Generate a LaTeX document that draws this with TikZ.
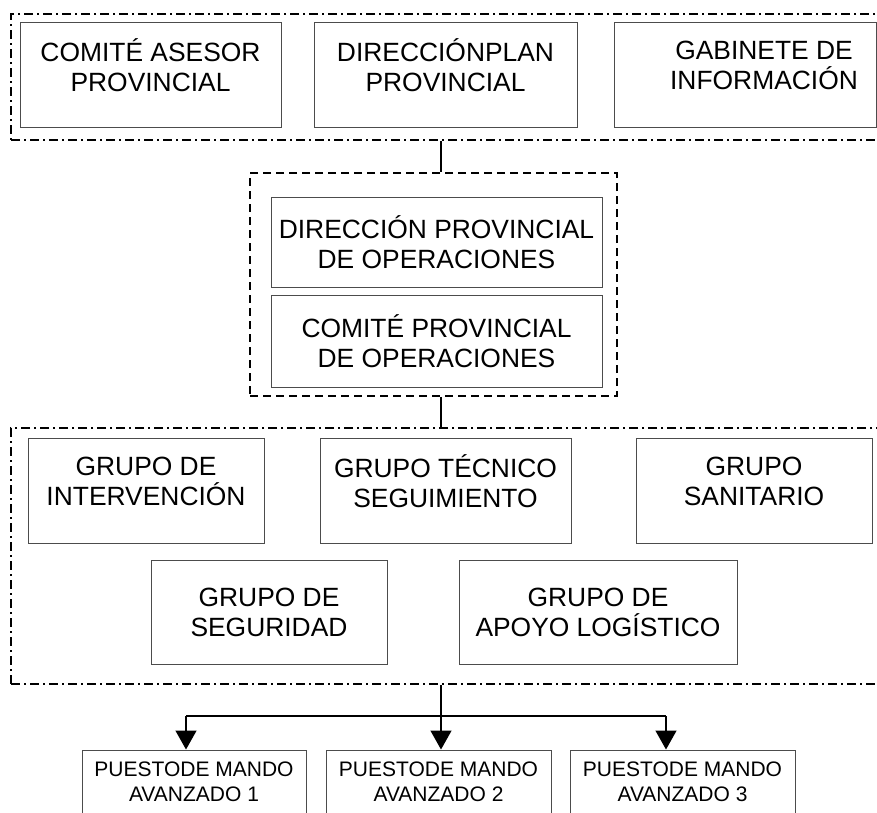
\documentclass[tikz,border=0pt]{standalone}
\usepackage{fontspec}
\setmainfont{Liberation Sans}
\usetikzlibrary{arrows.meta}

\tikzset{
  texto/.style={inner sep=0pt,align=center,font=\fontsize{26.4}{30}\selectfont},
  caja/.style={texto,draw=black!70,line width=1pt},
  cajapm/.style={caja,font=\fontsize{21}{25}\selectfont},
  marcoraya/.style={draw,line width=1.8pt,dash pattern=on 8pt off 5pt,inner sep=0pt},
  marcopunto/.style={marcoraya,dash pattern=on 9pt off 4pt on 2pt off 4pt},
  enlace/.style={line width=1.4pt},
  flecha/.style={enlace,-{Triangle[length=19pt,width=21pt]}}
}

\begin{document}
\begin{tikzpicture}[x=1pt,y=-1pt]
\clip (0,0) rectangle (877,812);
% marcos
\node[marcopunto,minimum width=879pt,minimum height=126pt] (marcoA) at (450.5,77) {};
\node[marcoraya,minimum width=367pt,minimum height=223pt] (marcoB) at (433.5,284.5) {};
\node[marcopunto,minimum width=879pt,minimum height=256pt] (marcoC) at (450.5,556) {};
% nivel provincial
\node[caja,minimum width=261pt,minimum height=105pt] (asesor) at (150.5,74.5) {};
\node[texto] (asesorT) at ([yshift=9pt]asesor.center) {COMITÉ ASESOR\\PROVINCIAL};
\node[caja,minimum width=263pt,minimum height=105pt] (dirplan) at (445.5,74.5) {};
\node[texto] (dirplanT) at ([yshift=9pt]dirplan.center) {DIRECCIÓNPLAN\\PROVINCIAL};
\node[caja,minimum width=262pt,minimum height=105pt] (gabinete) at (745,74.5) {};
\node[texto] (gabineteT) at ([xshift=19pt,yshift=9pt]gabinete.center) {GABINETE DE\\INFORMACIÓN};
% operaciones
\node[caja,minimum width=331pt,minimum height=90pt] (dirop) at (436.5,242) {DIRECCIÓN PROVINCIAL\\DE OPERACIONES};
\node[caja,minimum width=331pt,minimum height=92pt] (comop) at (436.5,341) {COMITÉ PROVINCIAL\\DE OPERACIONES};
% grupos
\node[caja,minimum width=236pt,minimum height=105pt] (interv) at (146,490.5) {};
\node[texto] (intervT) at ([yshift=9pt]interv.center) {GRUPO DE\\INTERVENCIÓN};
\node[caja,minimum width=251pt,minimum height=105pt] (tecnico) at (445.5,490.5) {};
\node[texto] (tecnicoT) at ([yshift=9pt]tecnico.center) {GRUPO TÉCNICO\\SEGUIMIENTO};
\node[caja,minimum width=236pt,minimum height=105pt] (sanit) at (754,490.5) {};
\node[texto] (sanitT) at ([yshift=9pt]sanit.center) {GRUPO\\SANITARIO};
\node[caja,minimum width=236pt,minimum height=104pt] (segur) at (269,612) {GRUPO DE\\SEGURIDAD};
\node[caja,minimum width=278pt,minimum height=104pt] (apoyo) at (598,612) {GRUPO DE\\APOYO LOGÍSTICO};
% puestos de mando
\node[cajapm,minimum width=224pt,minimum height=63pt] (pma1) at (194,781.5) {PUESTODE MANDO\\AVANZADO 1};
\node[cajapm,minimum width=225pt,minimum height=63pt] (pma2) at (438.5,781.5) {PUESTODE MANDO\\AVANZADO 2};
\node[cajapm,minimum width=225pt,minimum height=63pt] (pma3) at (682.5,781.5) {PUESTODE MANDO\\AVANZADO 3};
% enlaces
\coordinate (eje) at (441,0);
\coordinate (barra) at (441,716);
\coordinate (barra1) at (186,716);
\coordinate (barra3) at (666,716);
\draw[enlace] (eje |- marcoA.south) -- (eje |- marcoB.north);
\draw[enlace] (eje |- marcoB.south) -- (eje |- marcoC.north);
\draw[enlace] (eje |- marcoC.south) -- (barra);
\draw[enlace] (barra1) -- (barra3);
\draw[flecha] (barra1) -- (barra1 |- pma1.north);
\draw[flecha] (barra) -- (barra |- pma2.north);
\draw[flecha] (barra3) -- (barra3 |- pma3.north);
\end{tikzpicture}
\end{document}
